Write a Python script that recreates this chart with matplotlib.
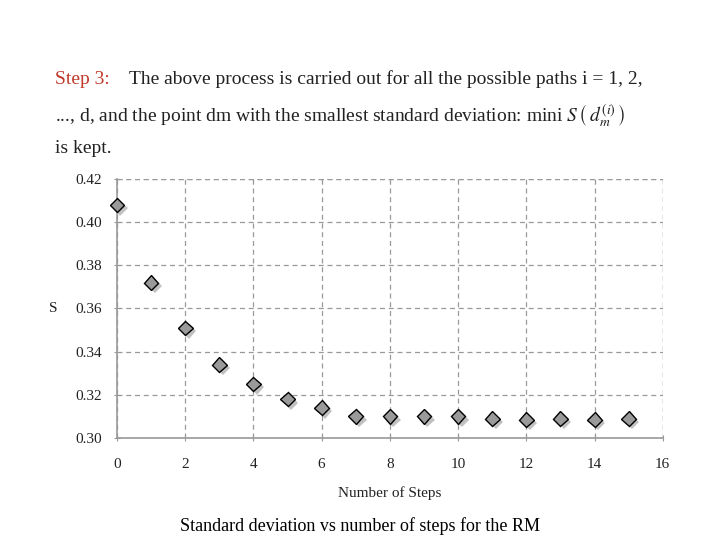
import matplotlib.pyplot as plt
import matplotlib.patheffects as pe

plt.rcParams['font.family'] = ['Liberation Serif', 'DejaVu Serif']
plt.rcParams['mathtext.fontset'] = 'stix'

# Standard deviation S per number of steps
steps = list(range(16))
s_values = [0.408, 0.372, 0.351, 0.334, 0.325, 0.318, 0.314, 0.310,
            0.310, 0.310, 0.310, 0.309, 0.3085, 0.309, 0.3085, 0.309]

x_ticks = [0, 2, 4, 6, 8, 10, 12, 14, 16]
y_ticks = [0.30, 0.32, 0.34, 0.36, 0.38, 0.40, 0.42]

fig = plt.figure(figsize=(7.2, 5.4), dpi=100)
ax = fig.add_axes([0.1625, 0.189, 0.758, 0.4795])

ax.plot(steps, s_values, linestyle='none', marker='D', markersize=7.5,
        markerfacecolor='#9a9a9a', markeredgecolor='black', markeredgewidth=1.0,
        path_effects=[pe.SimplePatchShadow(offset=(2.5, -2.5), shadow_rgbFace='#777777', alpha=0.45),
                      pe.Normal()],
        zorder=3, clip_on=False)

ax.set_xlim(0, 16)
ax.set_ylim(0.30, 0.42)
ax.set_xticks(x_ticks)
ax.set_yticks(y_ticks)
ax.set_xticklabels([str(t) for t in x_ticks])
ax.set_yticklabels([f"{t:.2f}" for t in y_ticks])

ax.grid(True, linestyle=(0, (4, 3)), color='#999999', linewidth=0.9)
for side in ['top', 'right']:
    ax.spines[side].set_visible(False)
for side in ['left', 'bottom']:
    ax.spines[side].set_color('#999999')
    ax.spines[side].set_linewidth(1.2)
# dashed frame on top/right like the grid
ax.axhline(0.42, linestyle=(0, (4, 3)), color='#999999', linewidth=0.9)
ax.axvline(16, linestyle=(0, (4, 3)), color='#999999', linewidth=0.9)

ax.tick_params(axis='both', colors='#999999', labelcolor='#222222', labelsize=11,
               direction='inout', length=5)
ax.tick_params(axis='x', pad=12)
ax.tick_params(axis='y', pad=8)

ax.set_xlabel('Number of Steps', fontsize=11, color='#222222', labelpad=11)
ax.set_ylabel('S', fontsize=11, color='#222222', rotation=0, labelpad=16, va='center')

# header text
fig.text(0.077, 0.845, 'Step 3:', color='#c0392b', fontsize=14)
fig.text(0.179, 0.845, 'The above process is carried out for all the possible paths i = 1, 2,',
         color='#222222', fontsize=14)
fig.text(0.077, 0.774, r'..., d, and the point dm with the smallest standard deviation: mini $S\,\left(\,d_m^{(i)}\,\right)$',
         color='#222222', fontsize=14)
fig.text(0.077, 0.717, 'is kept.', color='#222222', fontsize=14)

fig.text(0.5, 0.016, 'Standard deviation vs number of steps for the RM',
         ha='center', fontsize=13, color='black')

fig.savefig('out.png', dpi=100)
